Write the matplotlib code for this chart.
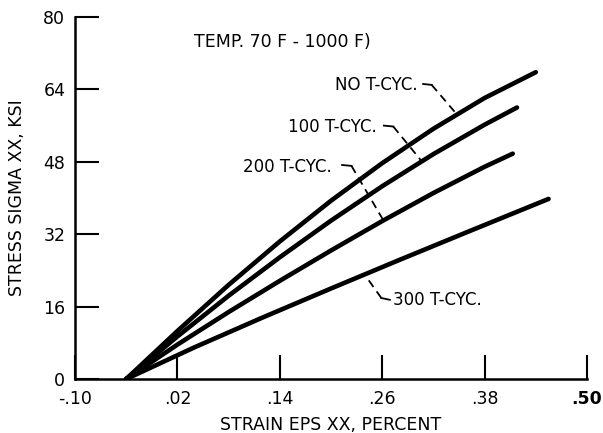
import matplotlib
matplotlib.use("Agg")
import matplotlib.pyplot as plt

plt.rcParams['font.family'] = ['DejaVu Sans']

# -------------------------
# Data
# -------------------------
x_no = [-0.04, 0.02, 0.08, 0.14, 0.20, 0.26, 0.32, 0.38, 0.44]
y_no = [0, 10.6, 20.8, 30.4, 39.4, 47.7, 55.3, 62.1, 67.8]

x_100 = [-0.04, 0.02, 0.08, 0.14, 0.20, 0.26, 0.32, 0.38, 0.418]
y_100 = [0, 9.4, 18.4, 26.9, 35.0, 42.6, 49.7, 56.2, 60.0]

x_200 = [-0.04, 0.02, 0.08, 0.14, 0.20, 0.26, 0.32, 0.38, 0.413]
y_200 = [0, 7.6, 14.8, 21.7, 28.4, 34.9, 41.1, 46.9, 49.8]

x_300 = [-0.04, 0.04, 0.12, 0.20, 0.28, 0.36, 0.455]
y_300 = [0, 7.0, 13.6, 20.0, 26.3, 32.5, 39.8]

xticks = [-0.10, 0.02, 0.14, 0.26, 0.38, 0.50]
xtick_labels = ["-.10", ".02", ".14", ".26", ".38", ".50"]
yticks = [0, 16, 32, 48, 64, 80]

# label text, text anchor, leader path (data coords)
labels = [
    ("NO T-CYC.", (0.205, 65.0), [(0.308, 65.2), (0.318, 65.0), (0.347, 58.6)]),
    ("100 T-CYC.", (0.150, 55.7), [(0.262, 56.0), (0.273, 55.8), (0.306, 48.2)]),
    ("200 T-CYC.", (0.097, 46.9), [(0.213, 47.3), (0.224, 47.1), (0.261, 35.2)]),
    ("300 T-CYC.", (0.273, 17.5), [(0.269, 17.5), (0.259, 17.9), (0.242, 22.4)]),
]

fig = plt.figure(figsize=(6.03, 4.33), dpi=100)
ax = fig.add_axes([0.1244, 0.1247, 0.849, 0.836])

for xs, ys in [(x_no, y_no), (x_100, y_100), (x_200, y_200), (x_300, y_300)]:
    ax.plot(xs, ys, color="black", lw=3.3, solid_capstyle="round",
            solid_joinstyle="round")

for txt, (tx, ty), path in labels:
    ax.text(tx, ty, txt, fontsize=12, ha="left", va="center")
    px = [p[0] for p in path]
    py = [p[1] for p in path]
    ax.plot(px[:2], py[:2], color="black", lw=1.3)
    ax.plot(px[1:], py[1:], color="black", lw=1.3, dashes=(4.5, 3))

ax.text(0.04, 74.5, "TEMP. 70 F - 1000 F)", fontsize=12.5, ha="left", va="center")

ax.set_xlim(-0.10, 0.50)
ax.set_ylim(0, 80)
ax.set_xticks(xticks)
ax.set_xticklabels(xtick_labels)
ax.set_yticks(yticks)
ax.get_xticklabels()[-1].set_fontweight("bold")

ax.spines["top"].set_visible(False)
ax.spines["right"].set_visible(False)
ax.spines["left"].set_linewidth(1.8)
ax.spines["bottom"].set_linewidth(1.8)
ax.tick_params(direction="in", length=17, width=1.5, labelsize=12.5)
ax.tick_params(axis="x", pad=8)
ax.tick_params(axis="y", pad=7)

ax.set_xlabel("STRAIN EPS XX, PERCENT", fontsize=12.5, labelpad=6)
ax.set_ylabel("STRESS SIGMA XX, KSI", fontsize=12.5, labelpad=12)

plt.savefig("out.png", dpi=100)
